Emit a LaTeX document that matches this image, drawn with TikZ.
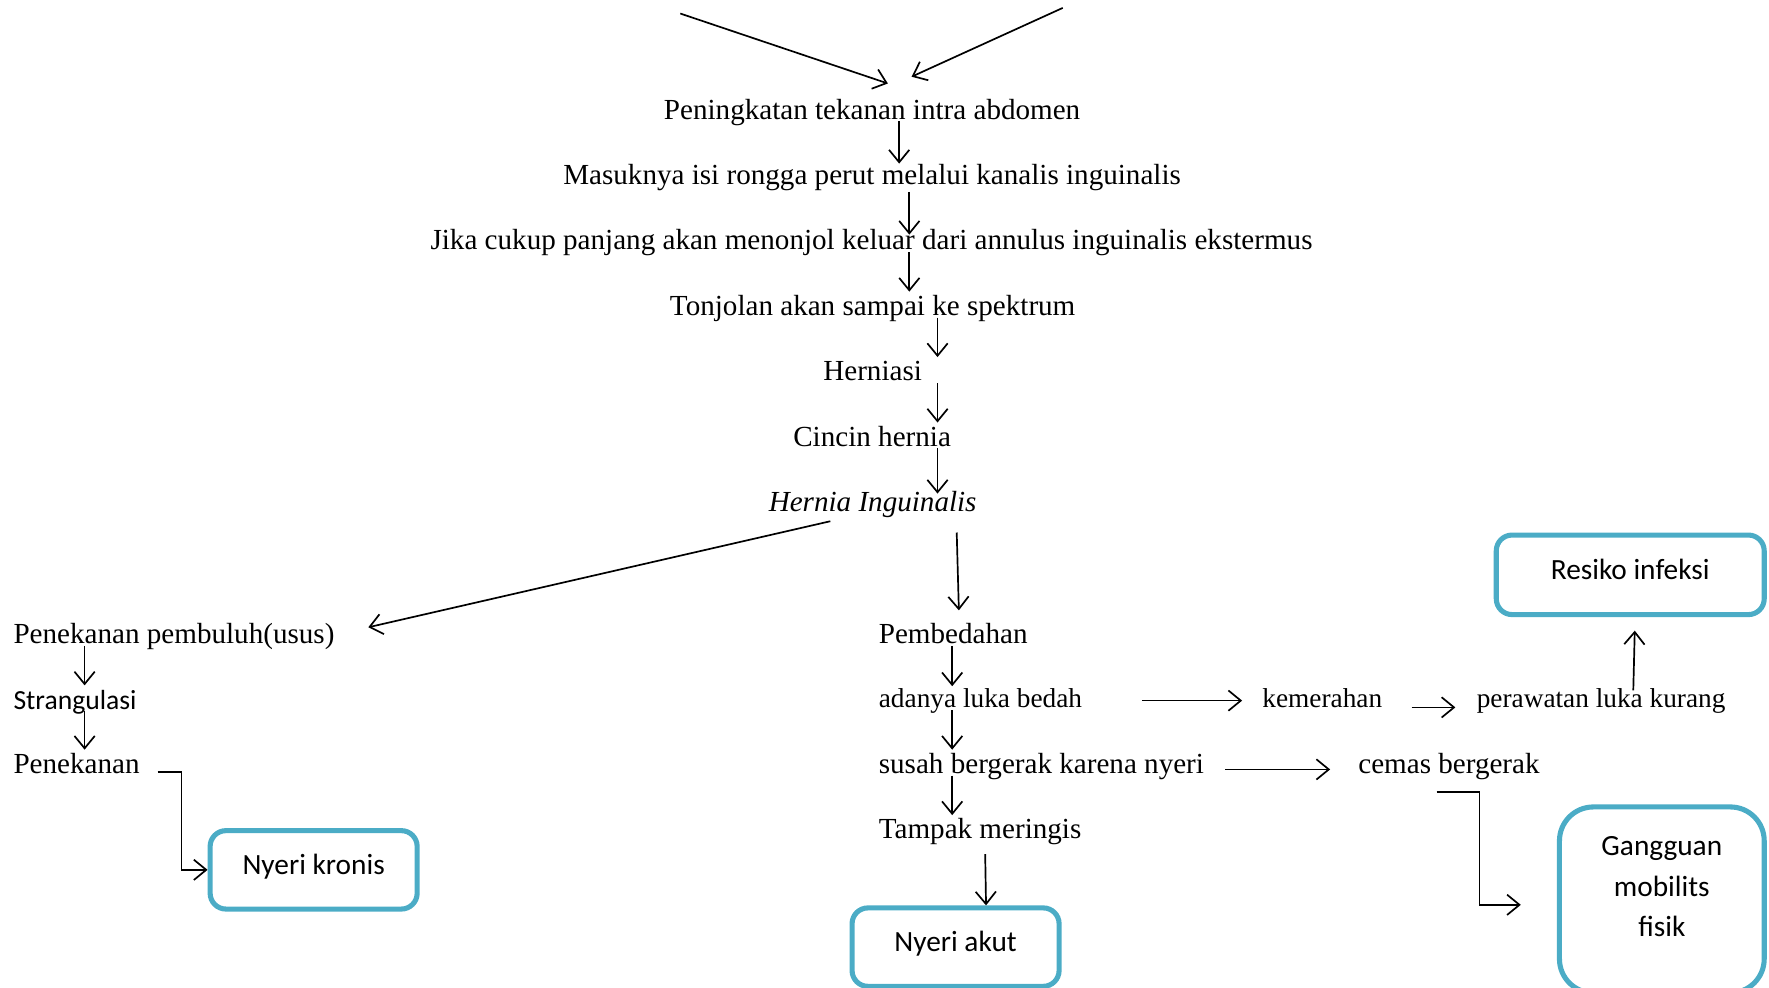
\documentclass[tikz,border=0pt]{standalone}
\usepackage{fontspec}
\setmainfont{Liberation Serif}
\newfontfamily\carl{Carlito}
\usetikzlibrary{arrows.meta,calc}
\definecolor{boxc}{HTML}{4BACC6}
\begin{document}
\begin{tikzpicture}[x=1pt,y=-1pt,
  txt/.style={inner sep=0pt,outer sep=0pt,font=\fontsize{25.8}{30}\selectfont,text height=21pt,text depth=2pt},
  sm/.style={txt,font=\fontsize{24.2}{28}\selectfont,text height=19pt,text depth=2.5pt},
  sans/.style={txt,font=\carl\fontsize{24.5}{28}\selectfont},
  box/.style={draw=boxc,line width=4.5pt,rounded corners=14pt,inner sep=0pt,
    font=\carl\fontsize{26}{36}\selectfont,text height=21pt,text depth=13pt,
    minimum width=183.5pt,minimum height=69.5pt},
  boxline/.style={draw=boxc,line width=4.5pt,rounded corners=30pt},
  arr/.style={draw,line width=1.5pt,-{Straight Barb[length=11pt,width=18pt]}},
]
\useasboundingbox (0,0) rectangle (1568,875);

% column x positions
\coordinate (colA) at (797,0);
\coordinate (colB) at (806,0);
\coordinate (colC) at (831,0);
\coordinate (colL) at (75,0);
\coordinate (colM) at (844,0);
\coordinate (src1) at (603,12);
\coordinate (src2) at (942,7);

% main chain
\node[txt] (pen) at (773,96) {Peningkatan tekanan intra abdomen};
\node[txt] (mas) at (773,154) {Masuknya isi rongga perut melalui kanalis inguinalis};
\node[txt] (jika) at (772.5,212) {Jika cukup panjang akan menonjol keluar dari annulus inguinalis ekstermus};
\node[txt] (ton) at (773.5,270) {Tonjolan akan sampai ke spektrum};
\node[txt] (her) at (773.5,328) {Herniasi};
\node[txt] (cin) at (773,386) {Cincin hernia};
\node[txt,font=\itshape\fontsize{25.8}{30}\selectfont] (hi) at (773.5,444) {Hernia Inguinalis};

% left branch
\node[txt,anchor=west] (pp) at (12,561) {Penekanan pembuluh(usus)};
\node[sans,anchor=west] (str) at (12,619) {Strangulasi};
\node[txt,anchor=west] (pk) at (12,676) {Penekanan};
\node[box] (nk) at (278,771) {Nyeri kronis};

% middle branch
\node[txt,anchor=west] (pem) at (779,561) {Pembedahan};
\node[sm,anchor=west] (alb) at (779,619) {adanya luka bedah};
\node[txt,anchor=west] (sbk) at (779,676) {susah bergerak karena nyeri};
\node[txt,anchor=west] (tm) at (779,734) {Tampak meringis};
\node[box] (na) at (847,839.5) {Nyeri akut};

% right branch
\node[sm,anchor=west] (kem) at (1119,619) {kemerahan};
\node[sm,anchor=west] (pwl) at (1309,619) {perawatan luka kurang};
\node[box,minimum width=237.5pt,minimum height=70.5pt] (ri) at (1445,509.5) {Resiko infeksi};
\node[txt,anchor=west] (cb) at (1204,676) {cemas bergerak};
\node[inner sep=0pt,align=center,font=\carl\fontsize{26}{36}\selectfont] (gm) at (1473,786) {Gangguan\\mobilits\\fisik};
\draw[boxline] ($(gm.center)+(-90.75,-70.75)$) rectangle ($(gm.center)+(90.75,94)$);

% connectors
\draw[arr] (src1) -- ($(pen.north)+(14,-10.5)$);
\draw[arr] (src2) -- ($(pen.north)+(35,-16.5)$);
\draw[arr,shorten >=-2.5pt] (pen.south -| colA) -- (mas.north -| colA);
\draw[arr,shorten <=4.5pt,shorten >=-7.5pt] (mas.south -| colB) -- (jika.north -| colB);
\draw[arr] (jika.south -| colB) -- (ton.north -| colB);
\draw[arr] (ton.south -| colC) -- (her.north -| colC);
\draw[arr] (her.south -| colC) -- (cin.north -| colC);
\draw[arr,shorten >=-5pt] (cin.south -| colC) -- (hi.north -| colC);

\draw[arr] ($(hi.south)+(-37.5,6.5)$) -- ($(pp.east)+(30,-5)$);
\draw[arr] (pp.south -| colL) -- (str.north -| colL);
\draw[arr] (str.south -| colL) -- (pk.north -| colL);
\draw[arr] ($(pk.east)+(16,8)$) -- ++(21,0) |- (nk.west);

\draw[arr] ($(hi.south)+(74.5,16.5)$) -- ($(pem.north)+(5,-8.5)$);
\draw[arr] (pem.south -| colM) -- (alb.north -| colM);
\draw[arr] (alb.south -| colM) -- (sbk.north -| colM);
\draw[arr] (sbk.south -| colM) -- (tm.north -| colM);
\draw[arr] ($(tm.south)+(4.5,11.5)$) -- ($(na.north)+(27,0)$);

\draw[arr] ($(alb.east)+(53,2)$) -- ($(kem.west)+(-18,2)$);
\draw[arr] ($(kem.east)+(26,8)$) -- ($(pwl.west)+(-19,8)$);
\draw[arr] ($(pwl.north)+(28.5,3.75)$) -- ($(ri.south)+(4,12)$);
\draw[arr] ($(sbk.east)+(19,6)$) -- ($(cb.west)+(-25,6)$);
\draw[arr] ($(cb.south)+(-11,14.5)$) -- ++(38,0) |- ($(gm.center)+(-125,16)$);
\end{tikzpicture}
\end{document}
